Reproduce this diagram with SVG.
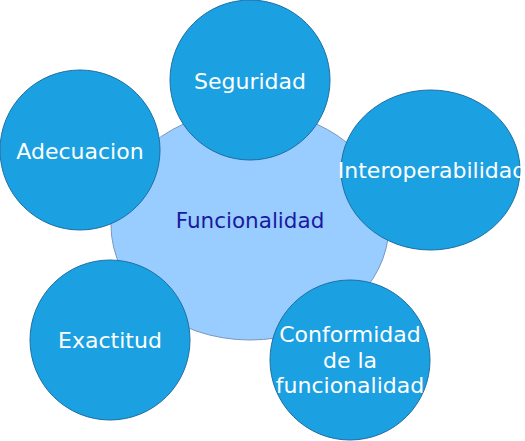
<svg xmlns="http://www.w3.org/2000/svg" width="525" height="441" viewBox="0 0 525 441">
<defs>
<style>
.c{fill:#1ba1e2;stroke:#1c6ea4;stroke-width:1}
.t{font-family:"DejaVu Sans",Verdana,sans-serif;font-size:22px;fill:#ffffff;text-anchor:middle}
.m{font-family:"DejaVu Sans",Verdana,sans-serif;font-size:21.5px;fill:#1a1aa0;text-anchor:middle}
</style>
<clipPath id="clip"><rect x="0" y="0" width="521" height="441"/></clipPath>
</defs>
<rect width="525" height="441" fill="#ffffff"/>
<g id="connectors"></g>
<g clip-path="url(#clip)">
<g id="funcionalidad">
<ellipse cx="250" cy="225" rx="139" ry="115" fill="#99ccff" stroke="#7a97bf" stroke-width="1"/>
<text class="m" x="250" y="228">Funcionalidad</text>
</g>
<g id="seguridad">
<circle class="c" cx="250" cy="80" r="80"/>
<text class="t" x="250" y="89">Seguridad</text>
</g>
<g id="adecuacion">
<circle class="c" cx="80" cy="150" r="80"/>
<text class="t" x="80" y="159">Adecuacion</text>
</g>
<g id="interoperabilidad">
<ellipse class="c" cx="430.5" cy="170" rx="89.5" ry="80"/>
<text class="t" x="432" y="178">Interoperabilidad</text>
</g>
<g id="exactitud">
<circle class="c" cx="110" cy="340" r="80"/>
<text class="t" x="110" y="348">Exactitud</text>
</g>
<g id="conformidad">
<circle class="c" cx="350" cy="360" r="80"/>
<text class="t" x="350" y="342">Conformidad</text>
<text class="t" x="350" y="368">de la</text>
<text class="t" x="350" y="393">funcionalidad</text>
</g>
</g>
</svg>
